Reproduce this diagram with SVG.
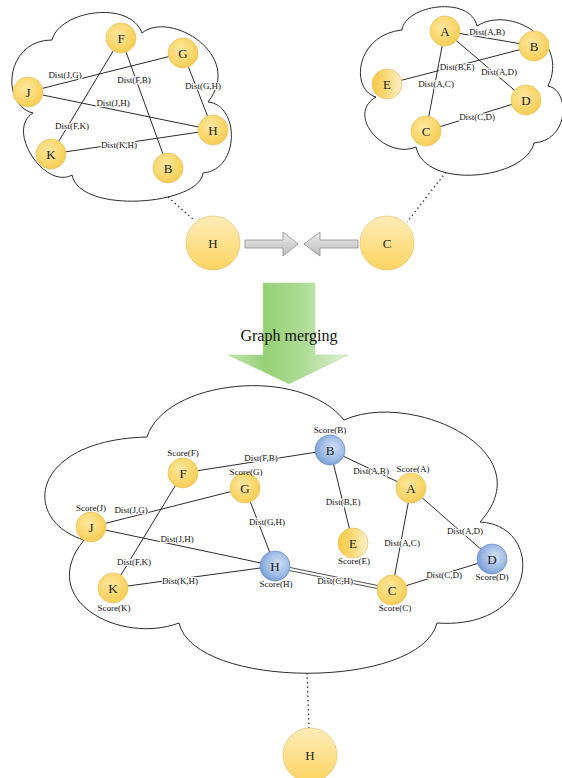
<svg xmlns="http://www.w3.org/2000/svg" width="562" height="778" viewBox="0 0 562 778">
  <defs>
    <radialGradient id="gold" cx="0.42" cy="0.38" r="0.65">
      <stop offset="0" stop-color="#fde6a0"/>
      <stop offset="0.6" stop-color="#fad86f"/>
      <stop offset="1" stop-color="#f5cb4f"/>
    </radialGradient>
    <linearGradient id="goldBig" x1="0" y1="0" x2="0" y2="1">
      <stop offset="0" stop-color="#feedb9"/>
      <stop offset="1" stop-color="#fcd462"/>
    </linearGradient>
    <linearGradient id="goldSide" x1="0" y1="0" x2="1" y2="0">
      <stop offset="0" stop-color="#f6c944"/>
      <stop offset="0.55" stop-color="#fbdc80"/>
      <stop offset="1" stop-color="#fdf1cc"/>
    </linearGradient>
    <radialGradient id="blue" cx="0.6" cy="0.42" r="0.7">
      <stop offset="0" stop-color="#d3e0f4"/>
      <stop offset="0.55" stop-color="#9fbbe6"/>
      <stop offset="1" stop-color="#6b93d3"/>
    </radialGradient>
    <linearGradient id="grayArrow" x1="0" y1="0" x2="0" y2="1">
      <stop offset="0" stop-color="#ececec"/>
      <stop offset="1" stop-color="#bcbcbc"/>
    </linearGradient>
    <linearGradient id="greenArrow" x1="228" y1="0" x2="348" y2="0" gradientUnits="userSpaceOnUse">
      <stop offset="0" stop-color="#c2e4ae"/>
      <stop offset="0.3" stop-color="#96d177"/>
      <stop offset="0.6" stop-color="#abda92"/>
      <stop offset="1" stop-color="#dff0d6"/>
    </linearGradient>
  </defs>
  <style>
    .cloud { fill: #ffffff; stroke: #2b2b2b; stroke-width: 1; }
    .edge { stroke: #2b2b2b; stroke-width: 1; fill: none; }
    .dots { stroke: #333; stroke-width: 1.3; stroke-dasharray: 1.5 3; fill: none; }
    .n { stroke: #e9c56a; stroke-width: 0.8; fill: url(#gold); }
    .nb { stroke: #e8c77a; stroke-width: 0.8; fill: url(#goldBig); }
    .ne { stroke: #e9c56a; stroke-width: 0.8; fill: url(#goldSide); }
    .nblue { stroke: #6a8fcc; stroke-width: 0.8; fill: url(#blue); }
    .lt { font-family: "Liberation Serif", "Times New Roman", serif; font-size: 13px; fill: #1c1c1c; text-anchor: middle; }
    .dl { font-family: "Liberation Serif", "Times New Roman", serif; font-size: 9px; fill: #111; text-anchor: middle;
          stroke: #ffffff; stroke-width: 2; paint-order: stroke; stroke-linejoin: round; }
    .sc { font-family: "Liberation Serif", "Times New Roman", serif; font-size: 9px; fill: #111; text-anchor: middle; }
    .title { font-family: "Liberation Serif", "Times New Roman", serif; font-size: 16px; fill: #111; text-anchor: middle; }
  </style>

  <!-- cloud outlines -->
  <g id="clouds">
    <path class="cloud" d="M52,40 C60,10 130,0 142,33 C170,10 245,55 208,102 C240,105 240,170 203,173 C200,205 80,215 72,175 C45,190 5,130 33,113 C0,105 5,40 52,40 Z"/>
    <path class="cloud" d="M402,30 C405,5 470,-5 477,26 C510,5 570,40 548,86 C570,90 570,140 534,143 C525,180 425,190 416,147 C385,160 345,115 376,97 C350,90 355,35 402,30 Z"/>
    <path class="cloud" d="M147,437 C165,380 300,365 344,420 C410,390 545,450 480,522 C545,525 540,630 437,623 C420,690 195,690 179,623 C120,645 35,600 84,540 C20,520 30,440 147,437 Z"/>
  </g>

  <!-- merge arrows -->
  <g id="arrows">
    <polygon points="245,240 283,240 283,232 298,244 283,256 283,248 245,248" fill="url(#grayArrow)" stroke="#8e8e8e" stroke-width="0.8"/>
    <polygon points="358,240 320,240 320,232 304,244 320,256 320,248 358,248" fill="url(#grayArrow)" stroke="#8e8e8e" stroke-width="0.8"/>
    <polygon points="263,283 315,283 315,355 348,355 289,384 228,355 263,355" fill="url(#greenArrow)" stroke="#b8dda5" stroke-width="0.6"/>
    <text class="title" x="289" y="341">Graph merging</text>
  </g>

  <!-- connectors -->
  <g id="connectors">
    <!-- left sub-graph -->
    <line class="edge" x1="28" y1="92" x2="183" y2="53"/>
    <line class="edge" x1="121" y1="38" x2="168" y2="168"/>
    <line class="edge" x1="183" y1="53" x2="213" y2="130"/>
    <line class="edge" x1="28" y1="92" x2="213" y2="130"/>
    <line class="edge" x1="121" y1="38" x2="51" y2="154"/>
    <line class="edge" x1="51" y1="154" x2="213" y2="130"/>
    <text class="dl" x="65" y="78">Dist(J,G)</text>
    <text class="dl" x="134" y="83">Dist(F,B)</text>
    <text class="dl" x="203" y="89">Dist(G,H)</text>
    <text class="dl" x="113" y="106">Dist(J,H)</text>
    <text class="dl" x="72" y="129">Dist(F,K)</text>
    <text class="dl" x="119" y="148">Dist(K,H)</text>

    <!-- right sub-graph -->
    <line class="edge" x1="445" y1="31" x2="534" y2="46"/>
    <line class="edge" x1="534" y1="46" x2="387" y2="84"/>
    <line class="edge" x1="445" y1="31" x2="526" y2="100"/>
    <line class="edge" x1="445" y1="31" x2="426" y2="131"/>
    <line class="edge" x1="426" y1="131" x2="526" y2="100"/>
    <text class="dl" x="487" y="35">Dist(A,B)</text>
    <text class="dl" x="457" y="70">Dist(B,E)</text>
    <text class="dl" x="499" y="75">Dist(A,D)</text>
    <text class="dl" x="436" y="87">Dist(A,C)</text>
    <text class="dl" x="477" y="120">Dist(C,D)</text>

    <!-- links from clouds to shared nodes -->
    <line class="dots" x1="168" y1="197" x2="194" y2="220"/>
    <line class="dots" x1="446" y1="172" x2="407" y2="222"/>
    <line class="dots" x1="307" y1="673" x2="309" y2="728"/>

    <!-- merged graph -->
    <line class="edge" x1="183" y1="473" x2="330" y2="450"/>
    <line class="edge" x1="330" y1="450" x2="411" y2="488"/>
    <line class="edge" x1="330" y1="450" x2="353" y2="543"/>
    <line class="edge" x1="91" y1="527" x2="245" y2="488"/>
    <line class="edge" x1="245" y1="488" x2="275" y2="566"/>
    <line class="edge" x1="91" y1="527" x2="275" y2="566"/>
    <line class="edge" x1="183" y1="473" x2="113" y2="588"/>
    <line class="edge" x1="113" y1="588" x2="275" y2="566"/>
    <line class="edge" x1="411" y1="488" x2="392" y2="590"/>
    <line class="edge" x1="411" y1="488" x2="492" y2="559"/>
    <line class="edge" x1="392" y1="590" x2="492" y2="559"/>
    <line x1="275" y1="566" x2="392" y2="590" stroke="#555" stroke-width="4.2"/>
    <line x1="275" y1="566" x2="392" y2="590" stroke="#ffffff" stroke-width="2.2"/>
    <text class="dl" x="261" y="461">Dist(F,B)</text>
    <text class="dl" x="371" y="474">Dist(A,B)</text>
    <text class="dl" x="343" y="505">Dist(B,E)</text>
    <text class="dl" x="131" y="513">Dist(J,G)</text>
    <text class="dl" x="267" y="525">Dist(G,H)</text>
    <text class="dl" x="177" y="542">Dist(J,H)</text>
    <text class="dl" x="134" y="565">Dist(F,K)</text>
    <text class="dl" x="180" y="584">Dist(K,H)</text>
    <text class="dl" x="335" y="584">Dist(C,H)</text>
    <text class="dl" x="402" y="546">Dist(A,C)</text>
    <text class="dl" x="465" y="534">Dist(A,D)</text>
    <text class="dl" x="444" y="578">Dist(C,D)</text>
  </g>

  <!-- left sub-graph nodes -->
  <g id="l-F"><circle class="n" cx="121" cy="38" r="15"/><text class="lt" x="121" y="42.5">F</text></g>
  <g id="l-G"><circle class="n" cx="183" cy="53" r="15"/><text class="lt" x="183" y="57.5">G</text></g>
  <g id="l-J"><circle class="n" cx="28" cy="92" r="15"/><text class="lt" x="28" y="96.5">J</text></g>
  <g id="l-H"><circle class="n" cx="213" cy="130" r="15"/><text class="lt" x="213" y="134.5">H</text></g>
  <g id="l-K"><circle class="n" cx="51" cy="154" r="15"/><text class="lt" x="51" y="158.5">K</text></g>
  <g id="l-B"><circle class="n" cx="168" cy="168" r="15"/><text class="lt" x="168" y="172.5">B</text></g>

  <!-- right sub-graph nodes -->
  <g id="r-A"><circle class="n" cx="445" cy="31" r="15"/><text class="lt" x="445" y="35.5">A</text></g>
  <g id="r-B"><circle class="n" cx="534" cy="46" r="15"/><text class="lt" x="534" y="50.5">B</text></g>
  <g id="r-E"><circle class="ne" cx="387" cy="84" r="15"/><text class="lt" x="387" y="88.5">E</text></g>
  <g id="r-D"><circle class="n" cx="526" cy="100" r="15"/><text class="lt" x="526" y="104.5">D</text></g>
  <g id="r-C"><circle class="n" cx="426" cy="131" r="15"/><text class="lt" x="426" y="135.5">C</text></g>

  <!-- shared nodes -->
  <g id="s-H"><circle class="nb" cx="213" cy="243" r="27"/><text class="lt" x="213" y="247.5">H</text></g>
  <g id="s-C"><circle class="nb" cx="387" cy="243" r="27"/><text class="lt" x="387" y="247.5">C</text></g>
  <g id="s-H2"><circle class="nb" cx="310" cy="755" r="27"/><text class="lt" x="310" y="759.5">H</text></g>

  <!-- merged graph nodes -->
  <g id="m-B"><circle class="nblue" cx="330" cy="450" r="15"/><text class="lt" x="330" y="454.5">B</text><text class="sc" x="330" y="433">Score(B)</text></g>
  <g id="m-F"><circle class="n" cx="183" cy="473" r="15"/><text class="lt" x="183" y="477.5">F</text><text class="sc" x="183" y="456">Score(F)</text></g>
  <g id="m-G"><circle class="n" cx="245" cy="488" r="15"/><text class="lt" x="245" y="492.5">G</text><text class="sc" x="246" y="475">Score(G)</text></g>
  <g id="m-J"><circle class="n" cx="91" cy="527" r="15"/><text class="lt" x="91" y="531.5">J</text><text class="sc" x="91" y="511">Score(J)</text></g>
  <g id="m-H"><circle class="nblue" cx="275" cy="566" r="15"/><text class="lt" x="275" y="570.5">H</text><text class="sc" x="276" y="587">Score(H)</text></g>
  <g id="m-K"><circle class="n" cx="113" cy="588" r="15"/><text class="lt" x="113" y="592.5">K</text><text class="sc" x="114" y="611">Score(K)</text></g>
  <g id="m-E"><circle class="ne" cx="353" cy="543" r="15"/><text class="lt" x="353" y="547.5">E</text><text class="sc" x="354" y="564">Score(E)</text></g>
  <g id="m-A"><circle class="n" cx="411" cy="488" r="15"/><text class="lt" x="411" y="492.5">A</text><text class="sc" x="413" y="472">Score(A)</text></g>
  <g id="m-C"><circle class="n" cx="392" cy="590" r="15"/><text class="lt" x="392" y="594.5">C</text><text class="sc" x="395" y="611">Score(C)</text></g>
  <g id="m-D"><circle class="nblue" cx="492" cy="559" r="15"/><text class="lt" x="492" y="563.5">D</text><text class="sc" x="492" y="580">Score(D)</text></g>
</svg>
